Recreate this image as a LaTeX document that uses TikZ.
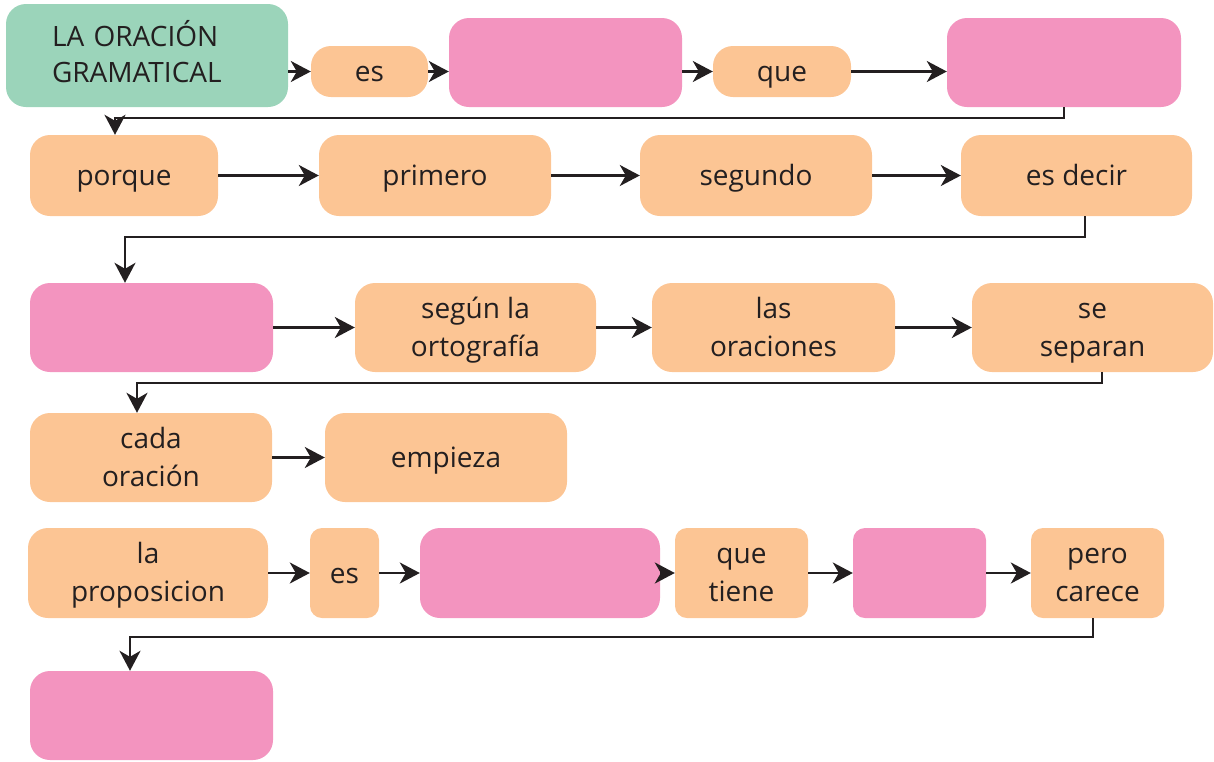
\documentclass[tikz,border=0pt]{standalone}
\usepackage{fontspec}
\setmainfont{Open Sans}
\usetikzlibrary{arrows.meta}
\definecolor{mintgreen}{HTML}{9BD4BA}
\definecolor{peach}{HTML}{FCC594}
\definecolor{rosepink}{HTML}{F394BF}
\definecolor{inkblack}{HTML}{231F20}

\begin{document}
\begin{tikzpicture}[x=1pt, y=-1pt,
		every node/.style={font=\fontsize{28}{38}\selectfont, text=inkblack, inner sep=0pt, align=center, text height=26pt, text depth=6pt},
		twoline/.style={text height=63pt},
		box/.style={fill=peach, rounded corners=20pt},
		blank/.style={fill=rosepink, rounded corners=20pt},
		slimbox/.style={fill=peach, rounded corners=12pt},
		slimblank/.style={fill=rosepink, rounded corners=12pt},
		link/.style={draw=inkblack, line width=2.4pt, -{Stealth[length=20pt, width=21pt, inset=6pt]}}]
				\useasboundingbox (0,0) rectangle (1214,761);
				
				% fila 1
				\node[fill=mintgreen, rounded corners=20pt, minimum width=282pt, minimum height=103pt, text width=190pt, align=left, font=\fontsize{28}{36}\selectfont, text depth=45pt] (title) at (147,55.5) {LA ORACIÓN\\GRAMATICAL};
				\node[box, minimum width=117pt, minimum height=51pt] (es1) at (369.5,71.5) {es};
				\node[blank, minimum width=233pt, minimum height=89pt] (p1) at (565.5,62.5) {};
				\node[box, minimum width=138pt, minimum height=51pt] (que) at (782,71.5) {que};
				\node[blank, minimum width=234pt, minimum height=89pt] (p2) at (1064,62.5) {};
				
				% fila 2
				\node[box, minimum width=188pt, minimum height=81pt] (porque) at (124,175.5) {porque};
				\node[box, minimum width=232pt, minimum height=81pt] (primero) at (435,175.5) {primero};
				\node[box, minimum width=232pt, minimum height=81pt] (segundo) at (756,175.5) {segundo};
				\node[box, minimum width=231pt, minimum height=81pt] (esdecir) at (1076.5,175.5) {es decir};
				
				% fila 3
				\node[blank, minimum width=243pt, minimum height=89pt] (p3) at (151.5,327.5) {};
				\node[box, twoline, minimum width=241pt, minimum height=89pt] (segun) at (475.5,327.5) {según la\\ortografía};
				\node[box, twoline, minimum width=243pt, minimum height=89pt] (oraciones) at (773.5,327.5) {las\\oraciones};
				\node[box, twoline, minimum width=241pt, minimum height=89pt] (separan) at (1092.5,327.5) {se\\separan};
				
				% fila 4
				\node[box, twoline, minimum width=242pt, minimum height=89pt] (cada) at (151,457.5) {cada\\oración};
				\node[box, minimum width=242pt, minimum height=89pt] (empieza) at (446,457.5) {empieza};
				
				% fila 5
				\node[box, twoline, minimum width=240pt, minimum height=90pt] (prop) at (148,573) {la\\proposicion};
				\node[slimbox, minimum width=69pt, minimum height=90pt] (es2) at (344.5,573) {es};
				\node[blank, minimum width=240pt, minimum height=90pt] (p4) at (540,573) {};
				\node[slimbox, twoline, minimum width=133pt, minimum height=90pt] (tiene) at (741.5,573) {que\\tiene};
				\node[slimblank, minimum width=133pt, minimum height=90pt] (p5) at (919.5,573) {};
				\node[slimbox, twoline, minimum width=133pt, minimum height=90pt] (carece) at (1097.5,573) {pero\\carece};
				
				% fila 6
				\node[blank, minimum width=243pt, minimum height=89pt] (p6) at (151.5,715.5) {};
				
				\draw[link] (title.east |- es1.west) -- (es1.west);
				\draw[link] (es1.east) -- (p1.west |- es1.east);
				\draw[link] (p1.east |- que.west) -- (que.west);
				\draw[link] (que.east) -- (p2.west |- que.east);
				\draw[link] (p2.south) -- ++(0,11) -| ([xshift=-9pt]porque.north);
				
				\draw[link] (porque) -- (primero);
				\draw[link] (primero) -- (segundo);
				\draw[link] (segundo) -- (esdecir);
				\draw[link] ([xshift=8.5pt]esdecir.south) -- ++(0,21) -| ([xshift=-26.5pt]p3.north);
				
				\draw[link] (p3) -- (segun);
				\draw[link] (segun) -- (oraciones);
				\draw[link] (oraciones) -- (separan);
				\draw[link] ([xshift=9.5pt]separan.south) -- ++(0,11) -| ([xshift=-14pt]cada.north);
				
				\draw[link] (cada) -- (empieza);
				
				\draw[link] (prop) -- (es2);
				\draw[link] (es2) -- (p4);
				\draw[link] (p4) -- (tiene);
				\draw[link] (tiene) -- (p5);
				\draw[link] (p5) -- (carece);
				\draw[link] ([xshift=-4.5pt]carece.south) -- ++(0,19) -| ([xshift=-21.5pt]p6.north);
			\end{tikzpicture}
\end{document}
